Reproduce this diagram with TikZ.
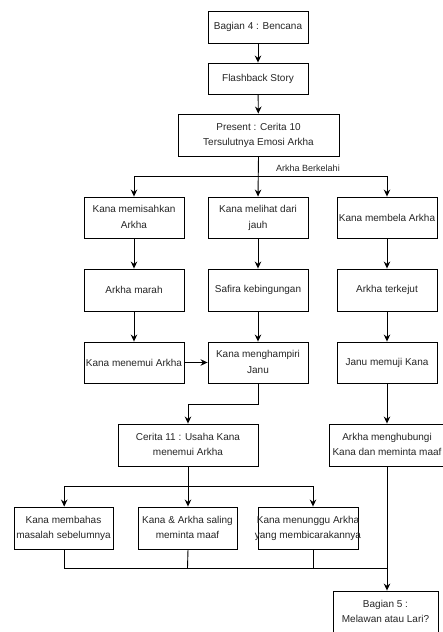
\documentclass[tikz,border=0pt]{standalone}
\usepackage{fontspec}
\setmainfont{Liberation Sans}
\usetikzlibrary{arrows.meta}
% two centred lines, each centred on the node's axis
\newcommand{\twolines}[2]{\begin{tabular}{@{}c@{}}\makebox[0pt][c]{#1}\\\makebox[0pt][c]{#2}\end{tabular}}
\begin{document}
\begin{tikzpicture}[x=1pt,y=-1pt,
  box/.style={draw=black, line width=0.9pt, fill=white, inner sep=0pt,
    text=black!85, font=\fontsize{10}{15.5}\selectfont},
  arr/.style={draw=black, line width=0.9pt, -{Stealth[length=7pt,width=6.5pt]}},
  ln/.style={draw=black, line width=0.9pt},
  lbl/.style={text=black!85, font=\fontsize{9}{12}\selectfont, inner sep=0pt}]
  \fill[white] (0,0) rectangle (442,632);
  \useasboundingbox (0,0) rectangle (442,632);

  % top chain
  \node[box, minimum width=100, minimum height=32] (b4) at (258,27) {Bagian 4 : Bencana};
  \node[box, minimum width=100, minimum height=31] (fb) at (258,78.5) {Flashback Story};
  \node[box, minimum width=161, minimum height=42] (pr) at (258.5,135) {\twolines{Present : Cerita 10}{Tersulutnya Emosi Arkha}};

  % three branches
  \node[box, minimum width=100, minimum height=41] (a1) at (134,217.5) {\twolines{Kana memisahkan}{Arkha}};
  \node[box, minimum width=100, minimum height=41] (b1) at (258,217.5) {\twolines{Kana melihat dari}{jauh}};
  \node[box, minimum width=100, minimum height=41] (c1) at (387,217.5) {Kana membela Arkha};

  \node[box, minimum width=100, minimum height=42] (a2) at (134,290) {Arkha marah};
  \node[box, minimum width=100, minimum height=42] (b2) at (258,290) {Safira kebingungan};
  \node[box, minimum width=100, minimum height=42] (c2) at (387,290) {Arkha terkejut};

  \node[box, minimum width=100, minimum height=41] (a3) at (134,362.5) {Kana menemui Arkha};
  \node[box, minimum width=100, minimum height=41] (b3) at (258,362.5) {\twolines{Kana menghampiri}{Janu}};
  \node[box, minimum width=100, minimum height=41] (c3) at (387,362.5) {Janu memuji Kana};

  \node[box, minimum width=140, minimum height=42] (ce) at (188,445) {\twolines{Cerita 11 : Usaha Kana}{menemui Arkha}};
  \node[box, minimum width=116, minimum height=42] (ah) at (387,445) {\twolines{Arkha menghubungi}{Kana dan meminta maaf}};

  \node[box, minimum width=99, minimum height=42] (d) at (63.5,528) {\twolines{Kana membahas}{masalah sebelumnya}};
  \node[box, minimum width=99, minimum height=42] (e) at (187.5,528) {\twolines{Kana \& Arkha saling}{meminta maaf}};
  \node[box, minimum width=100, minimum height=42] (f) at (308,528) {\twolines{Kana menunggu Arkha}{yang membicarakannya}};

  \node[box, minimum width=105, minimum height=42] (b5) at (385.5,612) {\twolines{Bagian 5 :}{Melawan atau Lari?}};

  % junction points
  \coordinate (j1) at (258,176);
  \coordinate (j2) at (188,404);
  \coordinate (j3) at (188,486);
  \coordinate (j4) at (387,568);

  \node[lbl] (lab) at (308,168.5) {Arkha Berkelahi};

  % connectors
  \draw[arr] (b4) -- (fb);
  \draw[arr] (fb) -- (pr);
  \draw[arr] (pr.south) -- (b1.north);
  \draw[arr] (j1) -| (a1.north);
  \draw[arr] (j1) -| (c1.north);

  \draw[arr] (a1) -- (a2);
  \draw[arr] (b1) -- (b2);
  \draw[arr] (c1) -- (c2);
  \draw[arr] (a2) -- (a3);
  \draw[arr] (b2) -- (b3);
  \draw[arr] (c2) -- (c3);
  \draw[arr] (a3) -- (b3);

  \draw[arr] (b3.south) |- (j2) -- (ce.north);
  \draw[arr] (c3) -- (ah);

  \draw[ln] (ce.south) -- (j3);
  \draw[arr] (j3) -| ([xshift=0.7pt]d.north);
  \draw[arr] (j3) -- ([xshift=0.5pt]e.north);
  \draw[arr] (j3) -| ([xshift=5pt]f.north);

  \draw[ln] ([xshift=0.7pt]d.south) |- (j4);
  \draw[ln] ([xshift=0.5pt]e.south) -- (e.south |- j4);
  \draw[ln] ([xshift=5pt]f.south) -- ([xshift=5pt]f.south |- j4);
  \draw[arr] (ah.south) -- (ah.south |- b5.north);
\end{tikzpicture}
\end{document}
